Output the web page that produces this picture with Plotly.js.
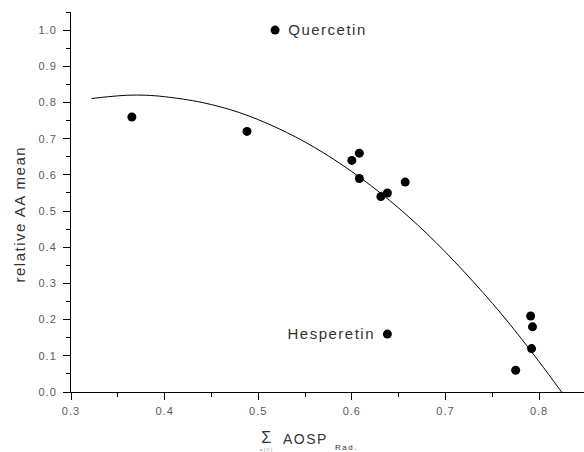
<!DOCTYPE html>
<html>
<head>
<meta charset="utf-8">
<script src="https://cdn.plot.ly/plotly-3.0.1.min.js"></script>
<style>
  html, body { margin: 0; padding: 0; background: #fff; }
  #chart { width: 584px; height: 452px; }
  .xtick text, .ytick text { letter-spacing: 1px; }
  .annotation text { letter-spacing: 1.5px; }
</style>
</head>
<body>
<div id="chart"></div>
<script>
// Measured compounds
const pointX = [0.365, 0.488, 0.518, 0.600, 0.608, 0.608, 0.631, 0.638, 0.657, 0.638, 0.775, 0.791, 0.793, 0.792];
const pointY = [0.76, 0.72, 1.00, 0.64, 0.66, 0.59, 0.54, 0.55, 0.58, 0.16, 0.06, 0.21, 0.18, 0.12];

// Fitted curve
const fitX = [0.322, 0.34, 0.36, 0.38, 0.40, 0.44, 0.48, 0.52, 0.56, 0.60, 0.64, 0.68, 0.72, 0.76, 0.80, 0.824];
const fitY = [0.811, 0.816, 0.820, 0.820, 0.816, 0.800, 0.772, 0.730, 0.676, 0.609, 0.530, 0.438, 0.332, 0.215, 0.084, 0.0];

// Labelled compounds
const labelNames = ["Quercetin", "Hesperetin"];
const labelX = [0.518, 0.638];
const labelY = [1.00, 0.16];

const xTitleMain = "AOSP";
const xTitleSub = "Rad.";
const yTitle = "relative AA mean";

const FONT = "Liberation Sans, Arial, sans-serif";

const traces = [
  {
    x: fitX, y: fitY, type: "scatter", mode: "lines",
    line: { color: "#000", width: 1, shape: "spline" },
    hoverinfo: "skip", showlegend: false
  },
  {
    x: pointX, y: pointY, type: "scatter", mode: "markers",
    marker: { color: "#000", size: 9, symbol: "circle" },
    showlegend: false
  }
];

const ax = {
  showgrid: false, zeroline: false, showline: true,
  linecolor: "#000", linewidth: 1,
  ticks: "outside", ticklen: 7, tickwidth: 1, tickcolor: "#000",
  tickfont: { family: FONT, size: 11, color: "#5a5a5a" },
  tickformat: ".1f",
  minor: { ticks: "outside", ticklen: 4, tickwidth: 1, tickcolor: "#000", dtick: 0.05, showgrid: false }
};

const annotations = [
  { x: labelX[0], y: labelY[0], xref: "x", yref: "y", text: labelNames[0], showarrow: false,
    xanchor: "center", yanchor: "middle", xshift: 52, yshift: 1,
    font: { family: FONT, size: 15, color: "#333" } },
  { x: labelX[1], y: labelY[1], xref: "x", yref: "y", text: labelNames[1], showarrow: false,
    xanchor: "center", yanchor: "middle", xshift: -56, yshift: 1,
    font: { family: FONT, size: 15, color: "#333" } },
  // y title
  { x: (18.5 - 71) / 513, y: (392 - 214) / 380, xref: "paper", yref: "paper", text: yTitle,
    showarrow: false, textangle: -90, xanchor: "center", yanchor: "middle",
    font: { family: FONT, size: 15, color: "#333" } },
  // x title pieces
  { x: (267 - 71) / 513, y: (392 - 437.5) / 380, xref: "paper", yref: "paper", text: "Σ",
    showarrow: false, xanchor: "center", yanchor: "middle",
    font: { family: FONT, size: 16, color: "#333" } },
  { x: (267 - 71) / 513, y: (392 - 449.5) / 380, xref: "paper", yref: "paper", text: "a(C)",
    showarrow: false, xanchor: "center", yanchor: "middle",
    font: { family: FONT, size: 4, color: "#555" } },
  { x: (284 - 71) / 513, y: (392 - 439) / 380, xref: "paper", yref: "paper", text: xTitleMain,
    showarrow: false, xanchor: "left", yanchor: "middle",
    font: { family: FONT, size: 14, color: "#333" } },
  { x: (336 - 71) / 513, y: (392 - 447.5) / 380, xref: "paper", yref: "paper", text: xTitleSub,
    showarrow: false, xanchor: "left", yanchor: "middle",
    font: { family: FONT, size: 8, color: "#333" } }
];

const layout = {
  width: 584, height: 452,
  margin: { l: 71, r: 0, t: 12, b: 60, pad: 0 },
  paper_bgcolor: "#fff", plot_bgcolor: "#fff",
  showlegend: false,
  xaxis: Object.assign({}, ax, { range: [0.3, 0.848], dtick: 0.1, tick0: 0.3, ticklabelstandoff: 2 }),
  yaxis: Object.assign({}, ax, { range: [0, 1.05], dtick: 0.1, tick0: 0, ticklabelstandoff: 4 }),
  annotations: annotations
};

Plotly.newPlot("chart", traces, layout, { displayModeBar: false, staticPlot: true });
</script>
</body>
</html>
